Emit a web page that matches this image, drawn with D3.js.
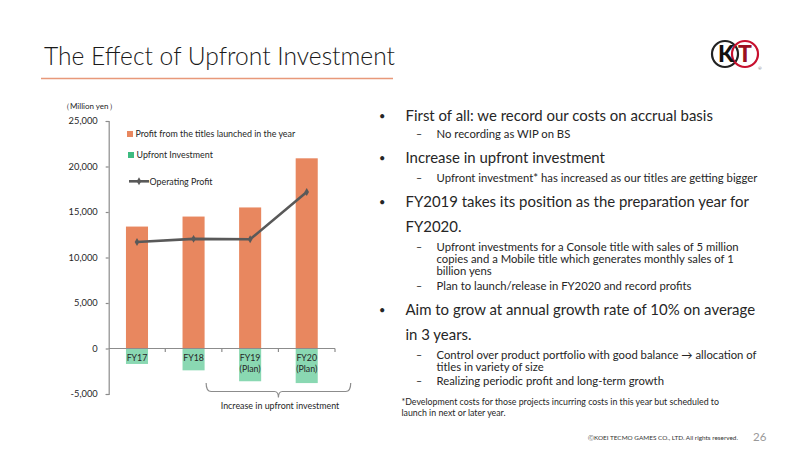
<!DOCTYPE html>
<html>
<head>
<meta charset="utf-8">
<script src="https://cdn.jsdelivr.net/npm/d3@7"></script>
<style>
  html, body { margin: 0; padding: 0; background: #fff; }
  svg { display: block; font-family: Lato, "Noto Sans", sans-serif; }
</style>
</head>
<body>
<svg id="slide" width="800" height="450"></svg>
<script>
// Chart data (million yen)

const categories = ["FY17", "FY18", "FY19", "FY20"];
const categorySub = ["", "", "(Plan)", "(Plan)"];
const profitLaunched = [13400, 14500, 15500, 20900];
const upfrontInvestment = [-1700, -2400, -3600, -3800];
const operatingProfit = [11700, 12050, 12000, 17200];
const yTickValues = [-5000, 0, 5000, 10000, 15000, 20000, 25000];

// Right side bullets

const bullets = [
  { level: 1, text: "First of all: we record our costs on accrual basis" },
  { level: 2, text: "No recording as WIP on BS" },
  { level: 1, text: "Increase in upfront investment" },
  { level: 2, text: "Upfront investment* has increased as our titles are getting bigger" },
  { level: 1, text: "FY2019 takes its position as the preparation year for" },
  { level: 0, text: "FY2020." },
  { level: 2, text: "Upfront investments for a Console title with sales of 5 million" },
  { level: 3, text: "copies and a Mobile title which generates monthly sales of 1" },
  { level: 3, text: "billion yens" },
  { level: 2, text: "Plan to launch/release in FY2020 and record profits" },
  { level: 1, text: "Aim to grow at annual growth rate of 10% on average" },
  { level: 0, text: "in 3 years." },
  { level: 2, text: "Control over product portfolio with good balance \u2192 allocation of" },
  { level: 3, text: "titles in variety of size" },
  { level: 2, text: "Realizing periodic profit and long-term growth" }
];
const bulletBaselines = [121, 137.5, 163, 181.5, 207, 232, 251, 263, 274.5, 289.5, 315, 340, 358.5, 370.5, 385];
const footnote = [
  "*Development costs for those projects incurring costs in this year but scheduled to",
  "launch in next or later year."
];

// Colours

const orange = "#E8875F";
const green = "#8AD8B2";
const greenLegend = "#3DBB80";
const lineColor = "#595959";
const axisColor = "#8C8C8C";
const textColor = "#262626";

const svg = d3.select("#slide");

svg.append("rect").attr("width", 800).attr("height", 450).attr("fill", "#fff");

// Title + rule

svg.append("text")
  .attr("x", 44).attr("y", 65)
  .attr("font-size", 24.6)
  .attr("font-weight", 300)
  .attr("fill", "#1a1a1a")
  .text("The Effect of Upfront Investment");

svg.append("line")
  .attr("x1", 41).attr("x2", 393)
  .attr("y1", 78.5).attr("y2", 78.5)
  .attr("stroke", "#E8997A").attr("stroke-width", 1.5);

// Logo (rough)

const logo = svg.append("g").attr("transform", "translate(735,54)");
logo.append("circle").attr("cx", -10).attr("cy", 0).attr("r", 13)
  .attr("fill", "#fff").attr("stroke", "#222").attr("stroke-width", 2.2);
logo.append("circle").attr("cx", 10).attr("cy", 0).attr("r", 13)
  .attr("fill", "none").attr("stroke", "#C8102E").attr("stroke-width", 2.2);
logo.append("text").attr("x", -9).attr("y", 8).attr("text-anchor", "middle")
  .attr("font-size", 23).attr("font-weight", 900).attr("fill", "#111").text("K");
logo.append("text").attr("x", 10).attr("y", 8).attr("text-anchor", "middle")
  .attr("font-size", 23).attr("font-weight", 900).attr("fill", "#9b1020").text("T");
logo.append("text").attr("x", 23).attr("y", 16).attr("font-size", 4.5).attr("fill", "#666").text("®");

// Scales

const x = d3.scaleBand().domain(categories).range([108.7, 335]).padding(0);
const y = d3.scaleLinear().domain([-5000, 25000]).range([394, 121]);
const barW = x.bandwidth() * 0.39;
const cx = (d) => x(d) + x.bandwidth() / 2;

const chart = svg.append("g");

// Unit label

chart.append("text")
  .attr("x", 62).attr("y", 108.5)
  .attr("font-size", 8).attr("fill", textColor)
  .text("（Million yen）");

// Bars

chart.selectAll(".bar-profit")
  .data(categories)
  .enter()
  .append("rect")
  .attr("class", "bar-profit")
  .attr("x", (d) => cx(d) - barW / 2)
  .attr("width", barW)
  .attr("y", (d, i) => y(profitLaunched[i]))
  .attr("height", (d, i) => y(0) - y(profitLaunched[i]))
  .attr("fill", orange);

chart.selectAll(".bar-upfront")
  .data(categories)
  .enter()
  .append("rect")
  .attr("class", "bar-upfront")
  .attr("x", (d) => cx(d) - barW / 2)
  .attr("width", barW)
  .attr("y", y(0))
  .attr("height", (d, i) => y(upfrontInvestment[i]) - y(0))
  .attr("fill", green);

// Y axis

const commaFmt = d3.format(",");
const yAxis = chart.append("g")
  .attr("transform", "translate(108.7,0)")
  .call(d3.axisLeft(y).tickValues(yTickValues).tickSize(3).tickPadding(8)
    .tickFormat((d) => commaFmt(d).replace("\u2212", "-")));
yAxis.select(".domain").attr("stroke", axisColor).attr("stroke-width", 1.2);
yAxis.selectAll(".tick line").attr("stroke", axisColor).attr("stroke-width", 1.2);
yAxis.selectAll(".tick text")
  .attr("font-family", "Lato, sans-serif")
  .attr("font-size", 9.3).attr("fill", textColor);

// X axis at zero with boundary ticks

const xAxis = chart.append("g");
xAxis.append("line")
  .attr("x1", 108.7).attr("x2", 335)
  .attr("y1", y(0)).attr("y2", y(0))
  .attr("stroke", axisColor).attr("stroke-width", 1.2);
xAxis.selectAll(".xtick")
  .data(categories.map((d) => x(d) + x.bandwidth()))
  .enter()
  .append("line")
  .attr("x1", (d) => d).attr("x2", (d) => d)
  .attr("y1", y(0)).attr("y2", y(0) + 3.5)
  .attr("stroke", axisColor).attr("stroke-width", 1.2);

// Category labels

chart.selectAll(".cat")
  .data(categories)
  .enter()
  .append("text")
  .attr("x", cx)
  .attr("y", 360.5)
  .attr("text-anchor", "middle")
  .attr("font-size", 8.8).attr("fill", textColor)
  .text((d) => d);

chart.selectAll(".cat-sub")
  .data(categories)
  .enter()
  .append("text")
  .attr("x", cx)
  .attr("y", 371.5)
  .attr("text-anchor", "middle")
  .attr("font-size", 8.8).attr("fill", textColor)
  .text((d, i) => categorySub[i]);

// Operating profit line

const line = d3.line()
  .x((d, i) => cx(categories[i]))
  .y((d) => y(d));

chart.append("path")
  .datum(operatingProfit)
  .attr("d", line)
  .attr("fill", "none")
  .attr("stroke", lineColor)
  .attr("stroke-width", 2.6)
  .attr("stroke-linejoin", "round");

const diamond = d3.symbol().type(d3.symbolDiamond).size(18);
chart.selectAll(".marker")
  .data(operatingProfit)
  .enter()
  .append("path")
  .attr("d", diamond)
  .attr("transform", (d, i) => "translate(" + cx(categories[i]) + "," + y(d) + ")")
  .attr("fill", lineColor);

// Legend

const legend = chart.append("g");
legend.append("rect").attr("x", 127).attr("y", 131).attr("width", 6).attr("height", 6).attr("fill", orange);
legend.append("text").attr("x", 135.5).attr("y", 136.8).attr("font-size", 8.9).attr("fill", textColor)
  .text("Profit from the titles launched in the year");
legend.append("rect").attr("x", 128).attr("y", 152).attr("width", 6).attr("height", 6).attr("fill", greenLegend);
legend.append("text").attr("x", 136.5).attr("y", 158).attr("font-size", 8.9).attr("fill", textColor)
  .text("Upfront Investment");
legend.append("line").attr("x1", 129).attr("x2", 149).attr("y1", 181.3).attr("y2", 181.3)
  .attr("stroke", lineColor).attr("stroke-width", 2.6);
legend.append("path").attr("d", diamond).attr("transform", "translate(139,181.3)").attr("fill", lineColor);
legend.append("text").attr("x", 149.5).attr("y", 184.5).attr("font-size", 8.9).attr("fill", textColor)
  .text("Operating Profit");

// Brace under FY19-FY20

const bx0 = x("FY19") + x.bandwidth() / 2 - 44;
const bx1 = x("FY20") + x.bandwidth() / 2 + 44;
const bm = (bx0 + bx1) / 2;
const by0 = 383, by1 = 391.5, by2 = 397.5;
chart.append("path")
  .attr("d", [
    "M", bx0, by0, "Q", bx0, by1, bx0 + 5, by1,
    "L", bm - 4, by1, "Q", bm, by1, bm, by2,
    "Q", bm, by1, bm + 4, by1,
    "L", bx1 - 5, by1, "Q", bx1, by1, bx1, by0
  ].join(" "))
  .attr("fill", "none")
  .attr("stroke", axisColor)
  .attr("stroke-width", 1.2);

chart.append("text")
  .attr("x", 280).attr("y", 409)
  .attr("text-anchor", "middle")
  .attr("font-size", 8.9).attr("fill", textColor)
  .text("Increase in upfront investment");

// Bullet list

const list = svg.append("g").attr("fill", textColor);
bullets.forEach((b, i) => {
  const by = bulletBaselines[i];
  if (b.level === 1) {
    list.append("text").attr("x", 379).attr("y", by - 1).attr("font-size", 11).text("•");
  }
  if (b.level === 2) {
    list.append("text").attr("x", 416).attr("y", by).attr("font-size", 10.5).text("–");
  }
  const big = b.level <= 1;
  list.append("text")
    .attr("x", big ? 405.5 : 436.5)
    .attr("y", by)
    .attr("font-size", big ? 14.95 : 11.3)
    .text(b.text);
});

list.selectAll(".foot")
  .data(footnote)
  .enter()
  .append("text")
  .attr("x", 401.5)
  .attr("y", (d, i) => 405.3 + i * 11)
  .attr("font-size", 8.8)
  .text((d) => d);

// Footer

svg.append("text")
  .attr("x", 588).attr("y", 440)
  .attr("font-size", 6.4).attr("fill", "#333")
  .text("ⒸKOEI TECMO GAMES CO., LTD.  All rights reserved.");

svg.append("text")
  .attr("x", 753).attr("y", 441)
  .attr("font-size", 11.5).attr("fill", "#999")
  .text("26");
</script>
</body>
</html>
